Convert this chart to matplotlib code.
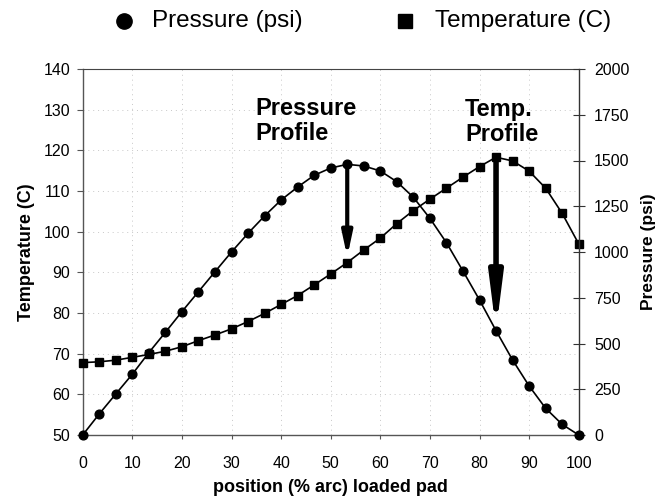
import matplotlib
matplotlib.use("Agg")
import matplotlib.pyplot as plt
from matplotlib.lines import Line2D
import numpy as np

plt.rcParams['font.family'] = ['Liberation Sans', 'DejaVu Sans']

# ---- data ----
position = [i * 100 / 30 for i in range(31)]  # % arc, 31 evenly spaced stations
pressure_psi = [0, 115, 224, 332, 450, 561, 674, 783, 892, 1000,
                1102, 1197, 1284, 1355, 1419, 1459, 1479, 1470, 1443, 1384,
                1299, 1184, 1051, 896, 738, 570, 410, 268, 146, 58, 0]
temperature_c = [67.8, 68.0, 68.4, 69.1, 69.8, 70.6, 71.7, 73.2, 74.6, 76.1,
                 77.9, 79.9, 82.1, 84.3, 86.9, 89.6, 92.4, 95.5, 98.4, 102.0,
                 105.2, 108.0, 110.7, 113.4, 116.0, 118.3, 117.4, 114.9, 110.7, 104.5, 97.0]
x_ticks = [0, 10, 20, 30, 40, 50, 60, 70, 80, 90, 100]
temp_ticks = [50, 60, 70, 80, 90, 100, 110, 120, 130, 140]
press_ticks = [0, 250, 500, 750, 1000, 1250, 1500, 1750, 2000]
legend_labels = ['Pressure (psi)', 'Temperature (C)']
pressure_peak_idx = 16
temp_peak_idx = 25

fig = plt.figure(figsize=(6.61, 4.96), dpi=100)
ax = fig.add_axes([82.7 / 661, (496 - 435) / 496, (578.7 - 82.7) / 661, 366 / 496])
ax2 = ax.twinx()

# temperature (left axis)
ax.plot(position, temperature_c, color='black', lw=1.2, marker='s', ms=6,
        mfc='black', mec='black', zorder=3, clip_on=False)
# pressure (right axis)
ax2.plot(position, pressure_psi, color='black', lw=1.2, marker='o', ms=6.3,
         mfc='black', mec='black', zorder=3, clip_on=False)

ax.set_xlim(0, 100)
ax.set_ylim(50, 140)
ax2.set_ylim(0, 2000)
ax.set_xticks(x_ticks)
ax.set_yticks(temp_ticks)
ax2.set_yticks(press_ticks)

# faint dotted grid
for xv in x_ticks[1:-1]:
    ax.axvline(xv, color='#c8c8c8', lw=0.7, ls=(0, (1, 4)), zorder=0)
for yv in temp_ticks[1:-1]:
    ax.axhline(yv, color='#c8c8c8', lw=0.7, ls=(0, (1, 4)), zorder=0)

# spines
for s in ['left', 'bottom']:
    ax.spines[s].set_color('#555555')
    ax.spines[s].set_linewidth(1.0)
ax.spines['top'].set_linestyle((0, (2, 1)))
ax.spines['top'].set_color('#444444')
ax.spines['right'].set_visible(False)
for s in ['left', 'bottom', 'top']:
    ax2.spines[s].set_visible(False)
ax2.spines['right'].set_color('#333333')
ax2.spines['right'].set_linewidth(1.0)

ax.tick_params(axis='y', direction='out', length=4, pad=5, labelsize=11.5, color='#555555')
ax.tick_params(axis='x', direction='out', length=3, pad=12, labelsize=11.5, color='#555555')
ax2.tick_params(axis='y', direction='inout', length=8, pad=7, labelsize=11.5, color='#333333')

ax.set_xlabel('position (% arc) loaded pad', fontsize=13, fontweight='bold', labelpad=6)
ax.set_ylabel('Temperature (C)', fontsize=13, fontweight='bold', labelpad=6)
ax2.set_ylabel('Pressure (psi)', fontsize=12.5, fontweight='bold', labelpad=8)

# arrows
ax2.annotate('', xy=(position[pressure_peak_idx], temperature_c[pressure_peak_idx]),
             xycoords=ax.transData,
             xytext=(position[pressure_peak_idx], pressure_psi[pressure_peak_idx]),
             textcoords=ax2.transData,
             arrowprops=dict(arrowstyle='-|>,head_length=1.4,head_width=0.3',
                             lw=3, color='black', shrinkA=0, shrinkB=4,
                             mutation_scale=10),
             zorder=5)
ax2.annotate('', xy=(position[temp_peak_idx], pressure_psi[temp_peak_idx]),
             xycoords=ax2.transData,
             xytext=(position[temp_peak_idx], temperature_c[temp_peak_idx]),
             textcoords=ax.transData,
             arrowprops=dict(arrowstyle='-|>,head_length=3.0,head_width=0.38',
                             lw=4, color='black', shrinkA=0, shrinkB=0,
                             mutation_scale=10),
             zorder=5)

ax.text(34.9, 133.2, 'Pressure\nProfile', fontsize=17, fontweight='bold',
        ha='left', va='top', linespacing=1.12, zorder=6)
ax.text(77.1, 132.9, 'Temp.\nProfile', fontsize=17, fontweight='bold',
        ha='left', va='top', linespacing=1.12, zorder=6)

# legend (placed manually above the plot)
leg_y = 1 - 21 / 496
fig.add_artist(Line2D([124 / 661], [leg_y], ls='none', marker='o', ms=11,
                      color='black', transform=fig.transFigure))
fig.text(152 / 661, leg_y, legend_labels[0], fontsize=17.5, ha='left', va='center')
fig.add_artist(Line2D([405 / 661], [leg_y], ls='none', marker='s', ms=10,
                      color='black', transform=fig.transFigure))
fig.text(435 / 661, leg_y, legend_labels[1], fontsize=17.5, ha='left', va='center')

fig.savefig('out.png', dpi=100)
